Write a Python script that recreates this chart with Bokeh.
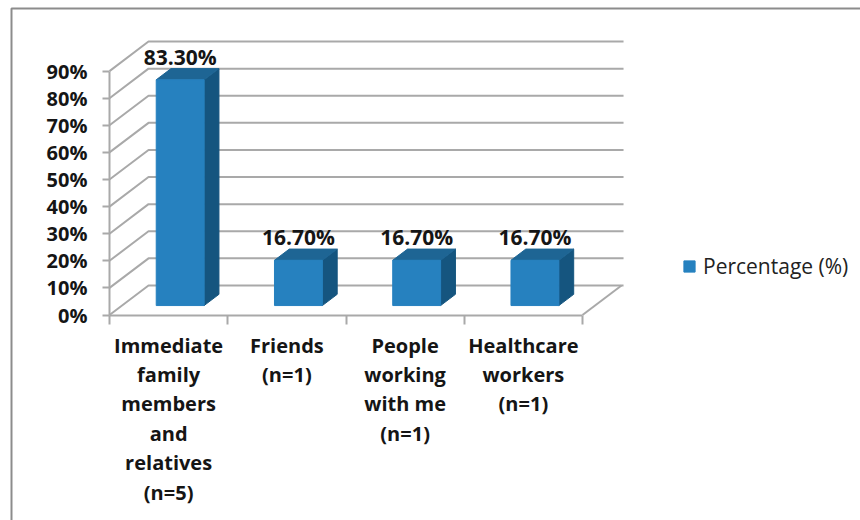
from bokeh.embed import file_html
from bokeh.resources import INLINE
from bokeh.plotting import figure
from bokeh.models import (BoxAnnotation, FixedTicker, Label, Legend, LegendItem,
                          LinearAxis, Range1d, ColumnDataSource)

categories = [
    ["Immediate", "family", "members", "and", "relatives", "(n=5)"],
    ["Friends", "(n=1)"],
    ["People", "working", "with me", "(n=1)"],
    ["Healthcare", "workers", "(n=1)"],
]
values = [83.3, 16.7, 16.7, 16.7]
value_labels = ["83.30%", "16.70%", "16.70%", "16.70%"]
y_ticks = [0, 10, 20, 30, 40, 50, 60, 70, 80, 90]
series_name = "Percentage (%)"

FONT = "Open Sans"
INK = "#151515"
GRID = "#a9a9a9"
FRONT, SIDE, TOP = "#2681bf", "#15557f", "#1e6594"

W, H = 860, 520
X0, Y0 = 109, 314.5          # where the front axes meet
SX, SY = 118.25, 2.71        # pixels per category / per percent

# oblique projection, in data units
DX, DY = 0.33, 10.9          # full depth of the floor
BAR_W = 0.405
BAR_SHIFT = -0.008
D0, D1 = 0.32, 0.70          # bar front / back as fraction of the depth
X_END = 4.347                # end of the back wall

p = figure(width=W, height=H, output_backend="svg", toolbar_location=None,
           x_axis_location=None, y_axis_location=None,
           x_range=Range1d(-X0 / SX, (W - X0) / SX),
           y_range=Range1d((Y0 - H) / SY, Y0 / SY),
           min_border=0, outline_line_color=None, background_fill_color="white")
p.grid.visible = False

# axes, fixed on the front corner
ya = LinearAxis(fixed_location=0, ticker=FixedTicker(ticks=y_ticks),
                major_label_overrides={v: f"{v}%" for v in y_ticks},
                bounds=(0, 90), major_tick_out=7, major_tick_in=0,
                minor_tick_out=0, minor_tick_in=0, major_label_standoff=15,
                major_label_text_font=FONT, major_label_text_font_style="bold",
                major_label_text_font_size="20px", major_label_text_color=INK,
                axis_line_color=GRID, axis_line_width=2,
                major_tick_line_color=GRID, major_tick_line_width=2)
p.add_layout(ya, "left")

n = len(categories)
xa = LinearAxis(fixed_location=0,
                ticker=FixedTicker(ticks=[], minor_ticks=list(range(n + 1))),
                bounds=(0, n), major_tick_out=0, major_tick_in=0,
                minor_tick_out=9, minor_tick_in=0,
                axis_line_color=GRID, axis_line_width=2,
                minor_tick_line_color=GRID, minor_tick_line_width=2)
p.add_layout(xa, "below")

# walls and floor
xs, ys = [], []
for v in y_ticks:
    xs.append([0, DX, X_END])
    ys.append([v, v + DY, v + DY])
xs.append([n, n + DX])
ys.append([0, DY])
p.multi_line(xs, ys, line_color=GRID, line_width=2)

# bars
lefts = [i + 0.5 - BAR_W / 2 + D0 * DX + BAR_SHIFT for i in range(n)]
rights = [l + BAR_W for l in lefts]
base = D0 * DY
tops = [base + v for v in values]
dx = (D1 - D0) * DX
dy = (D1 - D0) * DY

side_x = [[r, r + dx, r + dx, r] for r in rights]
side_y = [[base, base + dy, t + dy, t] for t in tops]
top_x = [[l, l + dx, r + dx, r] for l, r in zip(lefts, rights)]
top_y = [[t, t + dy, t + dy, t] for t in tops]
p.patches(side_x, side_y, fill_color=SIDE, line_color=SIDE, line_width=1)
p.patches(top_x, top_y, fill_color=TOP, line_color=TOP, line_width=1)
src = ColumnDataSource(dict(left=lefts, right=rights, top=tops, bottom=[base] * n))
front = p.quad(left="left", right="right", top="top", bottom="bottom", source=src,
               fill_color=FRONT, line_color=FRONT, line_width=1)

# value labels
for l, t, s in zip(lefts, tops, value_labels):
    p.add_layout(Label(x=l + BAR_W / 2, y=t + dy, text=s, y_offset=12,
                       text_font=FONT, text_font_size="21px", text_font_style="bold",
                       text_color=INK, text_align="center", text_baseline="middle"))

# category labels, one line per Label for the wide line spacing
for i, lines in enumerate(categories):
    for k, line in enumerate(lines):
        p.add_layout(Label(x=i + 0.5, y=0, text=line, y_offset=-(30 + k * 29.4),
                           text_font=FONT, text_font_size="20px", text_font_style="bold",
                           text_color=INK, text_align="center", text_baseline="middle"))

# legend
legend = Legend(items=[LegendItem(label=series_name, renderers=[front])],
                location=(682, 240), orientation="vertical",
                border_line_color=None, background_fill_alpha=0,
                glyph_width=14, glyph_height=14, label_standoff=7,
                label_text_font=FONT, label_text_font_size="21px", label_text_color="#222222",
                padding=0, margin=0)
p.add_layout(legend, "center")

# chart-area frame, running off the top right of the picture
p.add_layout(BoxAnnotation(left=(11 - X0) / SX, right=(W + 20 - X0) / SX,
                           top=(Y0 - 8) / SY, bottom=(Y0 - H - 20) / SY,
                           fill_alpha=0, line_color="#8c8c8c", line_alpha=1,
                           line_width=2, level="underlay"))

open("out.html", "w").write(file_html(p, INLINE))
